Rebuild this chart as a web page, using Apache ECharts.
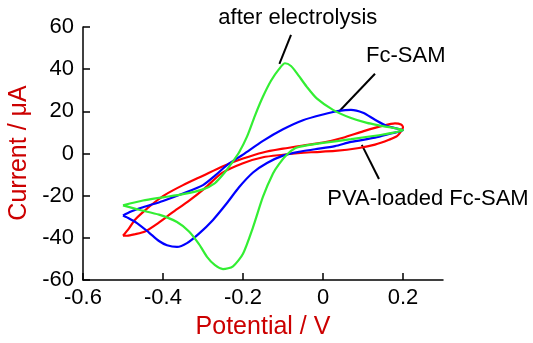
<!DOCTYPE html>
<html>
<head>
<meta charset="utf-8">
<script src="https://cdn.jsdelivr.net/npm/echarts@6/dist/echarts.min.js"></script>
<style>
  html, body { margin: 0; padding: 0; background: #fff; }
  #chart { width: 533px; height: 343px; }
</style>
</head>
<body>
<div id="chart"></div>
<script>
// Cyclic voltammograms: potential (V) vs current (µA), each loop closed at the vertices.
// PVA-loaded Fc-SAM (red)
const pvaE = [-0.5, -0.485, -0.47, -0.45, -0.42, -0.395, -0.35, -0.3, -0.25, -0.2, -0.15, -0.1, -0.05, 0.0, 0.05, 0.1, 0.15, 0.18, 0.195, 0.2,
              0.195, 0.185, 0.165, 0.13, 0.09, 0.03, -0.03, -0.07, -0.1, -0.15, -0.2, -0.253, -0.295, -0.337, -0.378, -0.412, -0.445, -0.47, -0.49, -0.5];
const pvaI = [-39, -35.5, -31.4, -27.8, -23, -19.6, -15, -10.5, -6, -2.4, 0.5, 2.3, 3.8, 5.2, 7.5, 10.5, 13.2, 14.3, 13.8, 12.5,
              10.5, 8.2, 6.5, 4.2, 2.6, 1.2, 0.6, 0.0, -0.6, -1.8, -4.6, -9.3, -16.4, -22.7, -28.2, -33, -37, -38.3, -39, -39];

// Fc-SAM (blue)
const fcE = [-0.5, -0.48, -0.45, -0.4, -0.35, -0.3, -0.27, -0.24, -0.2, -0.15, -0.1, -0.05, 0.0, 0.04, 0.07, 0.1, 0.13, 0.16, 0.2,
             0.17, 0.13, 0.07, 0.03, -0.02, -0.06, -0.1, -0.14, -0.175, -0.21, -0.24, -0.275, -0.31, -0.34, -0.365, -0.39, -0.41, -0.435, -0.465, -0.49, -0.5];
const fcI = [-29.4, -27.5, -25.5, -22.5, -19, -15, -10.5, -5.5, -0.5, 6, 11.5, 15.8, 18.5, 20.2, 20.7, 19.3, 16, 13, 11,
             9.5, 7.5, 5.5, 3.5, 2, 0.8, -1, -4.5, -9, -16, -23.5, -31.5, -38, -42.5, -44.3, -43.5, -41.5, -37.5, -33, -30.3, -29.4];

// After electrolysis (green)
const aeE = [-0.5, -0.45, -0.4, -0.35, -0.3, -0.27, -0.25, -0.23, -0.21, -0.19, -0.17, -0.15, -0.13, -0.11, -0.095, -0.08, -0.065, -0.04, -0.015, 0.025, 0.07, 0.11, 0.15, 0.2,
             0.15, 0.07, 0.0, -0.05, -0.07, -0.09, -0.11, -0.125, -0.15, -0.175, -0.2, -0.225, -0.25, -0.27, -0.29, -0.31, -0.335, -0.365, -0.41, -0.46, -0.5];
const aeI = [-24.6, -22.3, -20.8, -19.3, -17, -14, -10, -5, 0.5, 8, 18, 27, 34.5, 40, 42.8, 41.5, 38, 31.5, 26, 20.7, 16.8, 14.5, 13, 11,
             9, 6.8, 5, 3.5, 2.5, -0.5, -5, -9.5, -20.5, -35, -47.5, -53.5, -54.8, -53, -49, -43, -37, -32.5, -29, -26.7, -24.6];

// Axis ticks
const xTicks = [-0.6, -0.4, -0.2, 0, 0.2];
const yTicks = [-60, -40, -20, 0, 20, 40, 60];

// Callout labels: text position and leader-line ends, in data units
const notes = [
  { text: 'after electrolysis', at: [-0.063, 64.3], from: [-0.08, 56.3], to: [-0.109, 42.5] },
  { text: 'Fc-SAM', at: [0.207, 46.3], from: [0.13, 37.8], to: [0.0425, 20.4] },
  { text: 'PVA-loaded Fc-SAM', at: [0.2625, -21.5], from: [0.097, 4.1], to: [0.14, -12.1] }
];

const zip = (xs, ys) => xs.map((x, i) => [x, ys[i]]);
const FONT = 'Liberation Sans, Arial, sans-serif';

const chart = echarts.init(document.getElementById('chart'), null, { renderer: 'canvas' });

const axisCommon = {
  type: 'value',
  splitLine: { show: false },
  axisLine: { show: true, onZero: false, lineStyle: { color: '#000', width: 1.5 } },
  axisTick: { show: true, inside: true, length: 7, lineStyle: { color: '#000', width: 1.5 } },
  axisLabel: { color: '#000', fontSize: 22, fontFamily: FONT }
};

const curve = (name, color, data) => ({
  name, type: 'line', data, smooth: 0.25, showSymbol: false, symbol: 'none',
  lineStyle: { color, width: 2.2 }, clip: false, animation: false
});

chart.setOption({
  animation: false,
  grid: { left: 83, right: 90, top: 27, bottom: 63, containLabel: false },
  xAxis: Object.assign({}, axisCommon, {
    min: -0.6, max: 0.3, interval: 0.2,
    axisTick: Object.assign({}, axisCommon.axisTick, { customValues: xTicks }),
    axisLabel: Object.assign({}, axisCommon.axisLabel, { customValues: xTicks, margin: 7 })
  }),
  yAxis: Object.assign({}, axisCommon, {
    min: -60, max: 60, interval: 20,
    axisTick: Object.assign({}, axisCommon.axisTick, { customValues: yTicks }),
    axisLabel: Object.assign({}, axisCommon.axisLabel, { customValues: yTicks, margin: 9 })
  }),
  series: [
    curve('PVA-loaded Fc-SAM', '#ff0000', zip(pvaE, pvaI)),
    curve('Fc-SAM', '#0000ff', zip(fcE, fcI)),
    curve('after electrolysis', '#33ee33', zip(aeE, aeI))
  ]
});

// Axis titles and callouts, placed through the axis scales
const px = p => chart.convertToPixel({ gridIndex: 0 }, p);
const graphics = [
  {
    type: 'text', x: 263, y: 327,
    style: { text: 'Potential / V', fill: '#cc0000', font: '25px ' + FONT, align: 'center', verticalAlign: 'middle' }
  },
  {
    type: 'text', x: 19, y: 153, rotation: Math.PI / 2,
    style: { text: 'Current / μA', fill: '#cc0000', font: '25px ' + FONT, align: 'center', verticalAlign: 'middle' }
  }
];
notes.forEach(n => {
  const a = px(n.from), b = px(n.to), t = px(n.at);
  graphics.push({
    type: 'line', shape: { x1: a[0], y1: a[1], x2: b[0], y2: b[1] },
    style: { stroke: '#000', lineWidth: 2 }
  });
  graphics.push({
    type: 'text', x: t[0], y: t[1],
    style: { text: n.text, fill: '#000', font: '22px ' + FONT, align: 'center', verticalAlign: 'middle' }
  });
});
chart.setOption({ graphic: graphics });
</script>
</body>
</html>
